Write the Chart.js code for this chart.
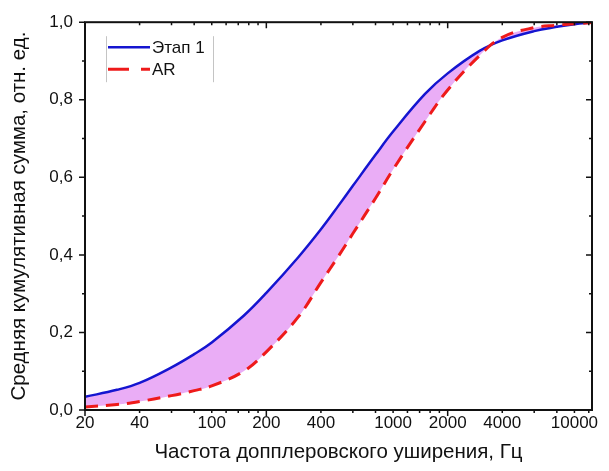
<!DOCTYPE html>
<html>
<head>
<meta charset="utf-8">
<script src="https://cdn.jsdelivr.net/npm/chart.js@4/dist/chart.umd.min.js"></script>
<style>
html,body{margin:0;padding:0;background:#fff;}
#wrap{width:609px;height:471px;}
</style>
</head>
<body>
<div id="wrap"><canvas id="c" width="609" height="471"></canvas></div>
<script>
// ---- data ----
const frequencies = [20,30,40,60,80,100,150,200,300,400,500,600,800,1000,1500,2000,3000,4000,6000,8000,10000,12500];
const stage1Values = [0.034,0.052,0.070,0.110,0.144,0.174,0.243,0.302,0.394,0.466,0.527,0.578,0.658,0.718,0.815,0.868,0.926,0.953,0.977,0.988,0.995,0.999];
const arValues     = [0.008,0.014,0.022,0.037,0.050,0.062,0.100,0.150,0.240,0.329,0.397,0.455,0.546,0.620,0.744,0.825,0.914,0.961,0.986,0.992,0.996,0.999];
const seriesNames = ['Этап 1', 'AR'];
const xTickLabels = [20,40,100,200,400,1000,2000,4000,10000];
const yTickLabels = [0,0.2,0.4,0.6,0.8,1.0];
const xMajorTicks = [20,200,2000];
const xMinorTicks = [40,60,80,100,120,140,160,180,400,600,800,1000,1200,1400,1600,1800,4000,6000,8000,10000,12000];
const yMajorTicks = [0,0.2,0.4,0.6,0.8,1.0];
const yMinorTicks = [0.1,0.3,0.5,0.7,0.9];
const xTitle = 'Частота допплеровского уширения, Гц';
const yTitle = 'Средняя кумулятивная сумма, отн. ед.';

const FONT = 'Liberation Sans, Arial, sans-serif';
const BLUE = '#1515d0';
const RED = '#ee1a1a';
const FILL = '#eaadf6';

const toPts = (ys) => frequencies.map((x, i) => ({x: x, y: ys[i]}));

const framePlugin = {
  id: 'frameTicks',
  afterDatasetsDraw(chart) {
    const {ctx, chartArea: a, scales: {x, y}} = chart;
    ctx.save();
    ctx.strokeStyle = '#111';
    ctx.lineWidth = 1.5;
    const tick = (px, len, horiz) => {
      ctx.beginPath();
      if (horiz) {
        ctx.moveTo(px, a.bottom); ctx.lineTo(px, a.bottom + len);
        ctx.moveTo(px, a.top); ctx.lineTo(px, a.top + len);
      } else {
        ctx.moveTo(a.left, px); ctx.lineTo(a.left - len, px);
        ctx.moveTo(a.right, px); ctx.lineTo(a.right - len, px);
      }
      ctx.stroke();
    };
    xMajorTicks.forEach(v => tick(x.getPixelForValue(v), 6, true));
    xMinorTicks.forEach(v => tick(x.getPixelForValue(v), 3, true));
    yMajorTicks.forEach(v => tick(y.getPixelForValue(v), 6, false));
    yMinorTicks.forEach(v => tick(y.getPixelForValue(v), 3, false));
    ctx.lineWidth = 2;
    ctx.strokeRect(a.left, a.top, a.right - a.left, a.bottom - a.top);
    ctx.restore();
  }
};

const legendPlugin = {
  id: 'innerLegend',
  afterDraw(chart) {
    const {ctx, chartArea: a} = chart;
    const bx0 = a.left + 21, bx1 = a.left + 128, by0 = a.top + 14, by1 = a.top + 60;
    ctx.save();
    ctx.strokeStyle = '#c4c4c4';
    ctx.lineWidth = 1;
    ctx.beginPath();
    ctx.moveTo(bx0 + 0.5, by0); ctx.lineTo(bx0 + 0.5, by1);
    ctx.moveTo(bx1 + 0.5, by0); ctx.lineTo(bx1 + 0.5, by1);
    ctx.stroke();
    chart.data.datasets.forEach((ds, i) => {
      const yy = a.top + 25 + i * 22;
      ctx.strokeStyle = ds.borderColor;
      ctx.lineWidth = ds.borderWidth;
      ctx.setLineDash(i === 1 ? [21, 12] : []);
      ctx.beginPath();
      ctx.moveTo(bx0 + 2, yy); ctx.lineTo(bx0 + 44, yy);
      ctx.stroke();
      ctx.setLineDash([]);
      ctx.fillStyle = '#111';
      ctx.font = '17px ' + FONT;
      ctx.textBaseline = 'middle';
      ctx.textAlign = 'left';
      ctx.fillText(ds.label, bx0 + 46, yy + 1);
    });
    ctx.restore();
  }
};

new Chart(document.getElementById('c'), {
  type: 'line',
  data: {
    datasets: [
      {
        label: seriesNames[0],
        data: toPts(stage1Values),
        borderColor: BLUE,
        borderWidth: 2.5,
        pointRadius: 0,
        tension: 0.4,
        fill: {target: 1, above: FILL, below: FILL},
        backgroundColor: FILL,
        order: 2
      },
      {
        label: seriesNames[1],
        data: toPts(arValues),
        borderColor: RED,
        borderWidth: 3,
        borderDash: [13, 8],
        pointRadius: 0,
        tension: 0.4,
        fill: false,
        order: 1
      }
    ]
  },
  options: {
    responsive: false,
    animation: false,
    devicePixelRatio: 1,
    layout: {padding: {left: 0, right: 17, top: 22, bottom: 0}},
    plugins: {legend: {display: false}, tooltip: {enabled: false}},
    scales: {
      x: {
        type: 'logarithmic',
        min: 20,
        max: 12500,
        grid: {display: false, drawTicks: false},
        border: {display: false},
        afterBuildTicks: (s) => { s.ticks = xTickLabels.map(v => ({value: v})); },
        afterFit: (s) => { s.height = 61; },
        ticks: {
          autoSkip: false, maxRotation: 0, minRotation: 0, padding: 3,
          color: '#111', font: {family: FONT, size: 17},
          callback: (v) => String(v)
        },
        title: {display: true, text: xTitle, color: '#111', font: {family: FONT, size: 20.5}, padding: {top: 0, bottom: 6}}
      },
      y: {
        min: 0,
        max: 1,
        grid: {display: false, drawTicks: false},
        border: {display: false},
        afterBuildTicks: (s) => { s.ticks = yTickLabels.map(v => ({value: v})); },
        afterFit: (s) => { s.width = 85; },
        ticks: {
          padding: 12,
          color: '#111', font: {family: FONT, size: 17},
          callback: (v) => Number(v).toFixed(1).replace('.', ',')
        },
        title: {display: true, text: yTitle, color: '#111', font: {family: FONT, size: 20.5}, padding: {top: 7, bottom: 0}}
      }
    }
  },
  plugins: [framePlugin, legendPlugin]
});
</script>
</body>
</html>
